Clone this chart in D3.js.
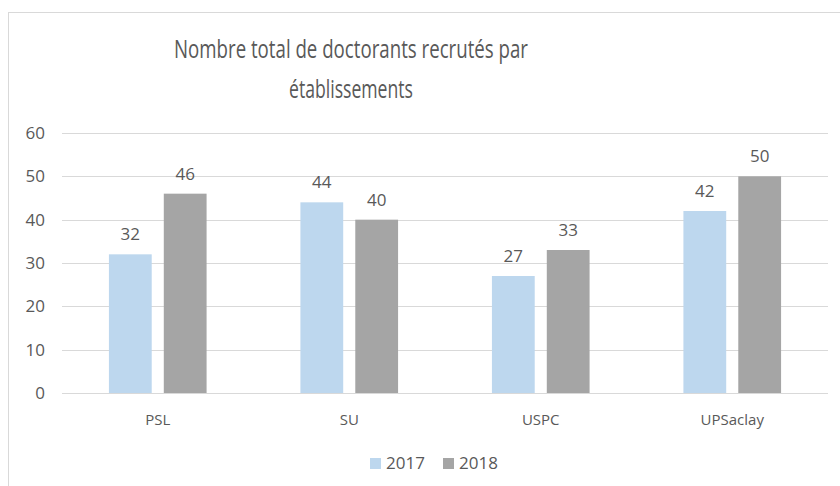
<!DOCTYPE html>
<html>
<head>
<meta charset="utf-8">
<script src="https://cdn.jsdelivr.net/npm/d3@7"></script>
<style>
  body { margin: 0; background: white; }
  text { font-family: "Open Sans", "Noto Sans", sans-serif; fill: #595959; }
</style>
</head>
<body>
<script>
const categories = ["PSL", "SU", "USPC", "UPSaclay"];
const years = ["2017", "2018"];
const values2017 = [32, 44, 27, 42];
const values2018 = [46, 40, 33, 50];
const yTicks = [0, 10, 20, 30, 40, 50, 60];
const titleLines = ["Nombre total de doctorants recrutés par", "établissements"];

const colors = { "2017": "#BDD7EE", "2018": "#A5A5A5" };

const svg = d3.select("body").append("svg")
	.attr("width", 840)
	.attr("height", 486);

// chart frame
svg.append("rect")
	.attr("x", 8.5).attr("y", 12.5)
	.attr("width", 840).attr("height", 500)
	.attr("fill", "white")
	.attr("stroke", "#D9D9D9");

const plotLeft = 62, plotRight = 828, plotTop = 133, plotBottom = 393;

const y = d3.scaleLinear().domain([0, 60]).range([plotBottom, plotTop]);
const x0 = d3.scaleBand().domain(categories).range([plotLeft, plotRight])
	.paddingInner(0.49).paddingOuter(0.245);
const x1 = d3.scaleBand().domain(years).range([0, x0.bandwidth()])
	.paddingInner(0.22);

// gridlines
svg.append("g").selectAll("line")
	.data(yTicks)
	.join("line")
	.attr("x1", plotLeft).attr("x2", plotRight)
	.attr("y1", d => Math.round(y(d)) + 0.5)
	.attr("y2", d => Math.round(y(d)) + 0.5)
	.attr("stroke", "#D9D9D9");

// y tick labels
svg.append("g").selectAll("text")
	.data(yTicks)
	.join("text")
	.attr("x", 45)
	.attr("y", d => y(d) + 6)
	.attr("text-anchor", "end")
	.style("font-size", "17px")
	.text(d => d);

const rows = categories.map((c, i) => ({
	cat: c,
	vals: [{ year: "2017", v: values2017[i] }, { year: "2018", v: values2018[i] }]
}));

const groups = svg.append("g").selectAll("g")
	.data(rows)
	.join("g")
	.attr("transform", d => `translate(${x0(d.cat)},0)`);

groups.selectAll("rect")
	.data(d => d.vals)
	.join("rect")
	.attr("x", d => x1(d.year))
	.attr("y", d => y(d.v))
	.attr("width", x1.bandwidth())
	.attr("height", d => plotBottom - y(d.v))
	.attr("fill", d => colors[d.year]);

groups.selectAll("text")
	.data(d => d.vals)
	.join("text")
	.attr("x", d => x1(d.year) + x1.bandwidth() / 2)
	.attr("y", d => y(d.v) - 14)
	.attr("text-anchor", "middle")
	.style("font-size", "17px")
	.text(d => d.v);

// category labels
svg.append("g").selectAll("text")
	.data(categories)
	.join("text")
	.attr("x", d => x0(d) + x0.bandwidth() / 2)
	.attr("y", 425)
	.attr("text-anchor", "middle")
	.style("font-size", "15px")
	.text(d => d);

// title, squeezed a little to match the narrow original face
const titleWidths = [354, 124];
svg.append("g").selectAll("text")
	.data(titleLines)
	.join("text")
	.attr("x", 351)
	.attr("y", (d, i) => 58 + i * 40)
	.attr("text-anchor", "middle")
	.attr("textLength", (d, i) => titleWidths[i])
	.attr("lengthAdjust", "spacingAndGlyphs")
	.style("font-size", "26px")
	.text(d => d);

// legend
const legendX = [370, 443];
const legend = svg.append("g").selectAll("g")
	.data(years)
	.join("g")
	.attr("transform", (d, i) => `translate(${legendX[i]},458)`);
legend.append("rect")
	.attr("width", 11).attr("height", 11)
	.attr("fill", d => colors[d]);
legend.append("text")
	.attr("x", 16).attr("y", 11)
	.style("font-size", "17px")
	.text(d => d);
</script>
</body>
</html>
